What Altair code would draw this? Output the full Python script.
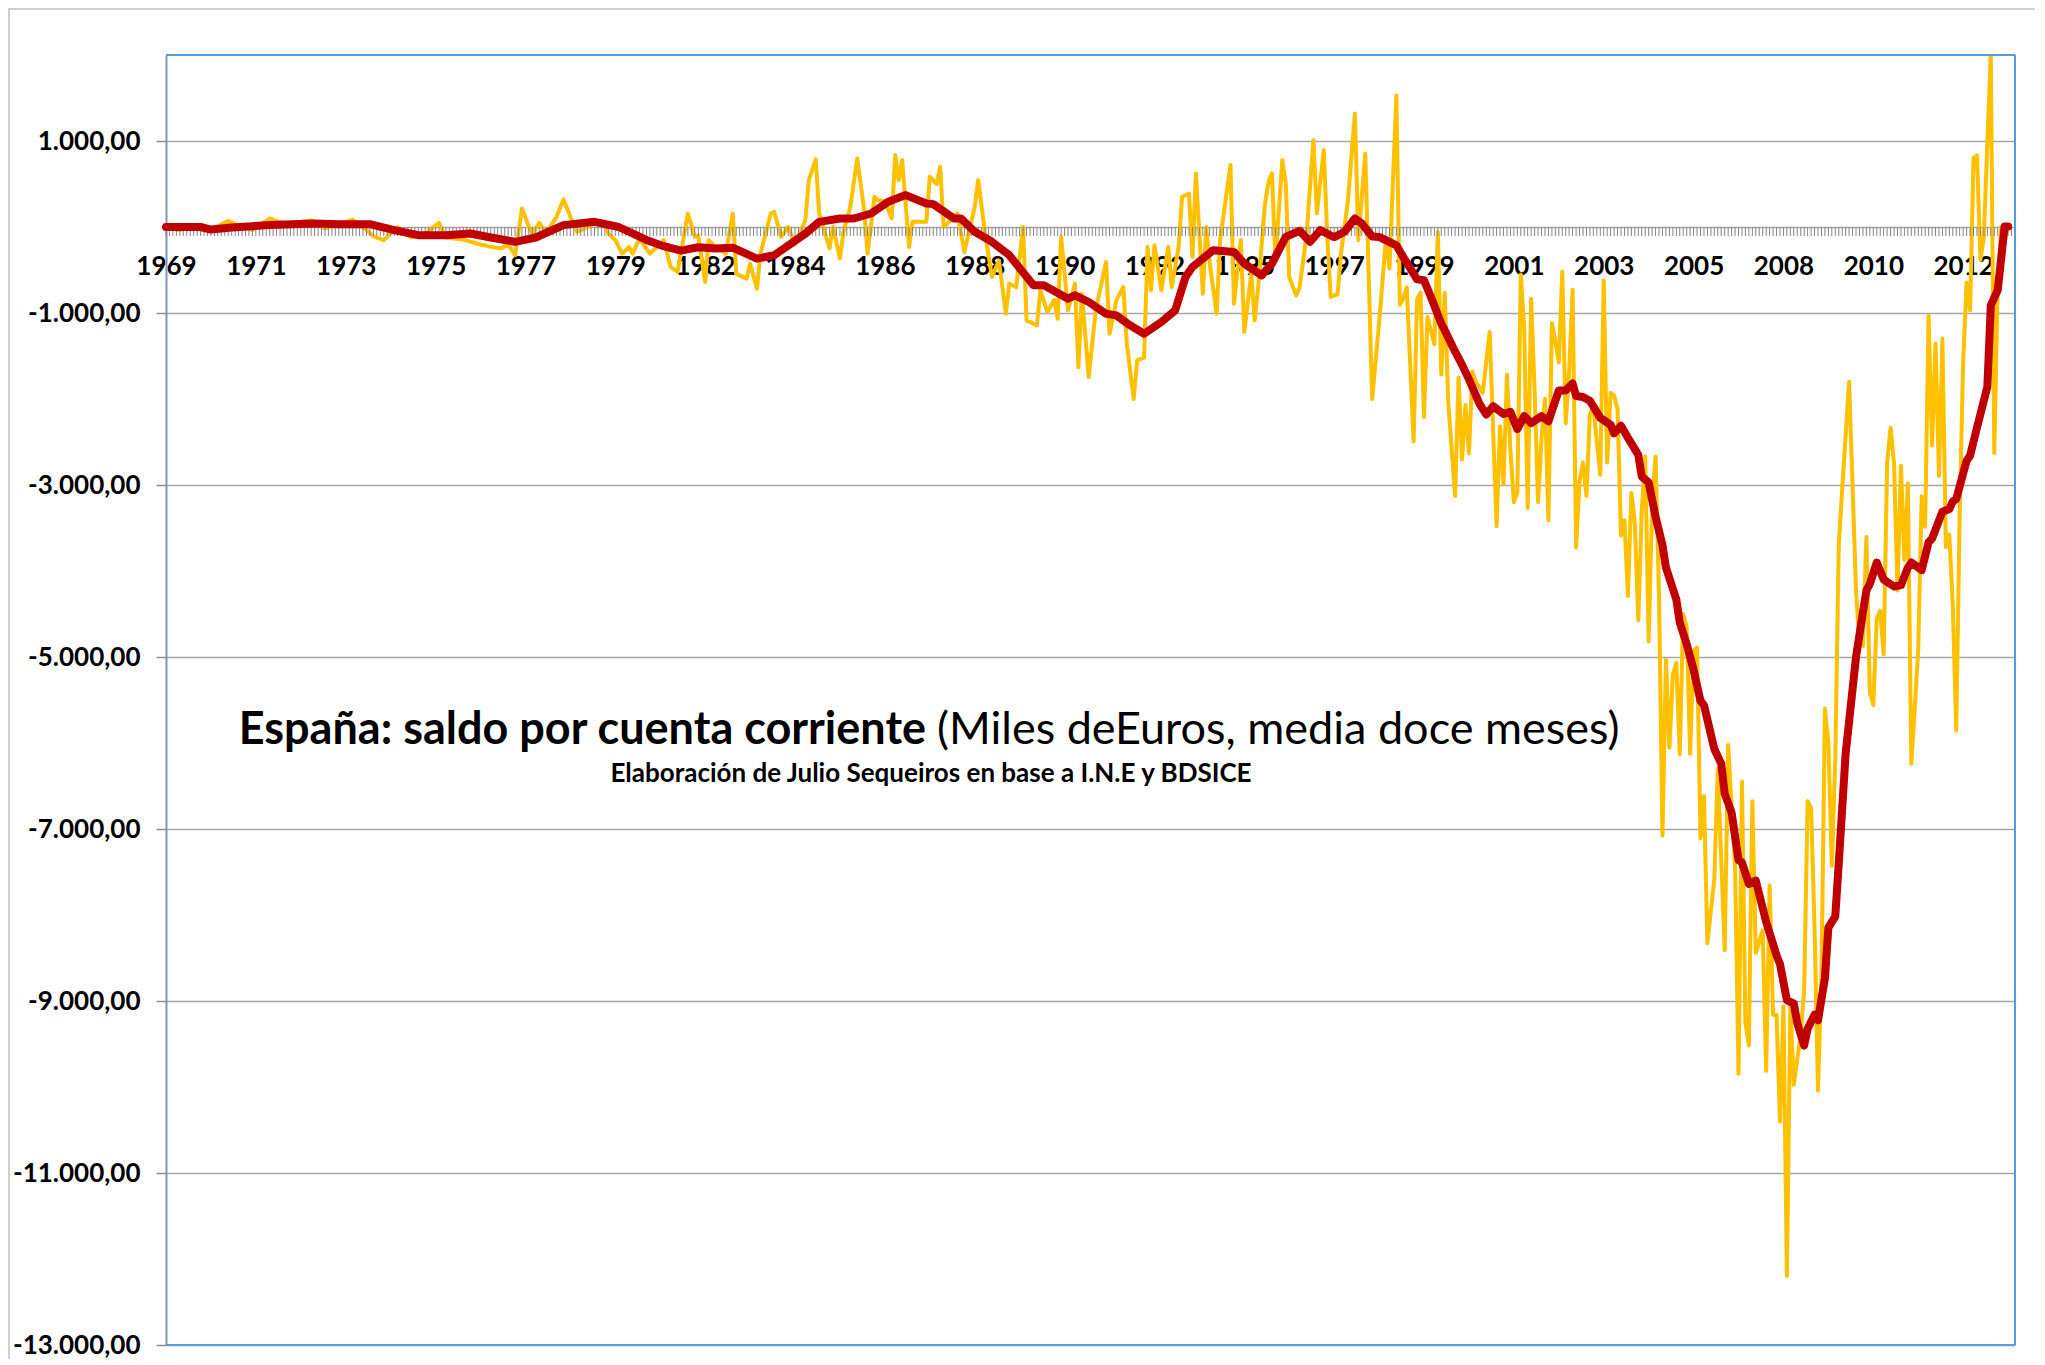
import altair as alt
import pandas as pd

# ---- data (month index: 0 = Jan 1969) ----
red_month = [0, 10, 13, 19, 30, 43, 50, 59, 66, 73, 81, 88, 94, 101, 107, 115, 124, 131, 139, 144,
             149, 154, 159, 164, 171, 176, 185, 189, 195, 199, 204, 209, 214, 220, 222, 228, 230, 234,
             239, 244, 251, 254, 261, 263, 267, 272, 275, 279, 283, 288, 292, 295, 297, 303, 309, 312,
             317, 320, 324, 328, 331, 334, 338, 341, 344, 346, 349, 351, 356, 358, 362, 364, 366, 369,
             370, 373, 375, 377, 380, 382, 384, 387, 389, 391, 393, 395, 398, 400, 403, 405, 407, 408,
             410, 412, 415, 418, 419, 421, 423, 426, 427, 429, 431, 433, 434, 437, 438, 440, 442, 444,
             445, 448, 450, 451, 453, 455, 456, 458, 460, 463, 466, 467, 469, 471, 472, 474, 475, 477,
             478, 480, 481, 483, 484, 486, 489, 491, 492, 493, 495, 497, 500, 502, 504, 505, 508, 510,
             511, 514, 516, 517, 518, 521, 522, 524, 527, 528, 530, 532, 533]
red_value = [0, 0, -30, -6, 22, 40, 33, 33, -37, -95, -95, -75, -122, -172, -122, 22, 60, 0, -150, -223,
             -275, -235, -250, -240, -367, -328, -77, 60, 99, 99, 157, 293, 371, 273, 266, 99, 99, -56,
             -172, -328, -677, -677, -833, -794, -872, -1008, -1028, -1144, -1241, -1105, -969, -581, -465, -270, -290, -426,
             -562, -426, -115, -45, -172, -37, -120, -56, 99, 41, -110, -115, -213, -350, -609, -620, -814, -1124,
             -1200, -1450, -1600, -1770, -2050, -2180, -2085, -2175, -2150, -2350, -2200, -2280, -2200, -2260, -1900, -1900, -1820, -1965,
             -1977, -2020, -2220, -2300, -2400, -2310, -2450, -2650, -2900, -2970, -3370, -3700, -3960, -4330, -4600, -4850, -5150, -5510,
             -5560, -6070, -6240, -6590, -6810, -7360, -7390, -7640, -7600, -8080, -8470, -8570, -8990, -9030, -9257, -9518, -9322, -9159,
             -9224, -8734, -8146, -8016, -7400, -6122, -5000, -4480, -4227, -4150, -3902, -4100, -4180, -4165, -3961, -3902, -3990, -3665,
             -3624, -3310, -3280, -3191, -3162, -2718, -2659, -2333, -1859, -912, -735, 5, 5]

yellow_month = [0, 4, 8, 13, 18, 20, 25, 30, 34, 38, 42, 46, 50, 54, 58, 60, 63, 67, 71, 75, 79, 81, 86, 90,
                94, 97, 99, 101, 103, 105, 106, 108, 110, 113, 115, 117, 119, 122, 125, 127, 128, 130, 132,
                134, 135, 137, 140, 144, 146, 148, 151, 153, 154, 156, 157, 159, 162, 164, 165, 168, 169,
                171, 172, 175, 176, 178, 180, 182, 185, 186, 188, 189, 192, 193, 195, 196, 198, 200, 202,
                203, 205, 206, 208, 210, 211, 212, 213, 215, 216, 220, 221, 223, 224, 225, 227, 229, 231,
                234, 235, 237, 239, 241, 243, 244, 246, 248, 249, 252, 253, 255, 257, 258, 259, 261, 263,
                264, 265, 267, 269, 272, 273, 275, 277, 278, 280, 281, 283, 284, 285, 286, 288, 290, 291,
                293, 294, 296, 297, 298, 300, 301, 302, 304, 305, 308, 309, 311, 312, 314, 315, 316, 318,
                319, 320, 321, 323, 324, 325, 327, 328, 330, 332, 333, 335, 336, 337, 339, 340, 342, 344,
                345, 347, 349, 351, 353, 354, 356, 357, 358, 359, 361, 362, 363, 364, 365, 367, 368, 369,
                370, 371, 373, 374, 375, 376, 377, 378, 379, 381, 383, 385, 386, 387, 388, 389, 390, 391,
                392, 393, 394, 395, 396, 397, 398, 399, 400, 401, 402, 403, 404, 405, 406, 407, 408, 409,
                410, 411, 412, 413, 415, 416, 417, 418, 419, 420, 421, 422, 423, 424, 425, 426, 427, 428,
                429, 430, 431, 432, 433, 434, 435, 436, 437, 438, 439, 440, 441, 442, 443, 444, 445, 446,
                448, 449, 451, 452, 454, 455, 456, 457, 458, 459, 460, 462, 463, 464, 465, 466, 467, 468,
                469, 470, 471, 473, 474, 475, 476, 477, 478, 479, 480, 481, 482, 483, 484, 485, 487, 489,
                490, 491, 492, 493, 494, 495, 496, 497, 498, 499, 500, 501, 502, 503, 504, 505, 506, 507,
                508, 509, 510, 511, 512, 513, 514, 515, 516, 517, 518, 519, 520, 521, 522, 523, 524, 525,
                526, 527, 528, 529, 530, 531]
yellow_value = [0, -37, 10, -30, 70, 33, -37, 99, 40, 50, 79, -18, 30, 87, -37, -107, -153, 0, -122, -80, 48, -122, -146, -192,
                -231, -250, -200, -328, 216, 0, -77, 48, -68, 118, 320, 118, -56, 0, 60, 60, -77, -153, -309,
                -231, -309, -134, -309, -153, -464, -522, 157, -115, -100, -639, -153, -231, -309, 157, -542, -600, -426,
                -717, -309, 157, 177, -115, 0, -200, 79, 545, 786, 157, -250, 0, -367, -60, 234, 797, 200,
                -309, 351, 312, 300, 99, 836, 545, 778, -231, 60, 60, 584, 500, 700, 0, 79, 157, -290,
                234, 545, -77, -581, -390, -1008, -658, -700, 0, -1086, -1144, -736, -988, -850, -1066, -115, -969, -658,
                -1630, -775, -1746, -969, -406, -1241, -850, -698, -1357, -1999, -1552, -1520, -231, -736, -212, -736, -231, -700,
                -231, 351, 389, -348, 623, -775, 0, -426, -1008, -150, 720, -891, -150, -1221, -542, -1086, -700, 273,
                525, 623, -387, 778, 506, -581, -795, -700, -100, 1011, 157, 895, -100, -814, -780, -300, 312, 1321,
                -153, 855, -2000, -1117, -129, -482, 1529, -905, -834, -700, -2492, -834, -764, -2210, -1046, -1363, -58, -1716,
                -764, -2034, -3127, -1751, -2704, -2069, -2633, -1681, -1800, -1928, -1222, -3480, -2316, -2986, -1716, -2598, -3198, -3092,
                -552, -1187, -3268, -834, -1893, -3198, -2457, -1998, -3409, -1117, -1328, -1575, -517, -2281, -1681, -729, -3727, -2951,
                -2739, -3127, -2175, -2104, -2880, -623, -2739, -1928, -1963, -2118, -3586, -3409, -4291, -3092, -3445, -4573, -3304, -2669,
                -4820, -3233, -2669, -4291, -7078, -5032, -6055, -5208, -5067, -6130, -4500, -4650, -6126, -4930, -4890, -7110, -6615, -8330,
                -7580, -6300, -8408, -6024, -7428, -9845, -6448, -9257, -9518, -6677, -8440, -8179, -9812, -7657, -9159, -9159, -10400, -9061,
                -12196, -9061, -9975, -9387, -8865, -6677, -6760, -8146, -10040, -8701, -5600, -6000, -7428, -6187, -3705, -3050, -1800, -4227,
                -4848, -4870, -3606, -5411, -5559, -4553, -4464, -4967, -2747, -2333, -2747, -4227, -2777, -3872, -2984, -6240, -5589, -4908,
                -3132, -3487, -1031, -2540, -1356, -2896, -1297, -3724, -3576, -4405, -5855, -3339, -1563, -646, -971, 805, 834, -379,
                -113, 982, 2000, -2629, -675, 0]

tick_step = 26
tick_labels = ["1969", "1971", "1973", "1975", "1977", "1979", "1982", "1984", "1986", "1988", "1990",
               "1992", "1995", "1997", "1999", "2001", "2003", "2005", "2008", "2010", "2012"]
y_ticks = [1000, -1000, -3000, -5000, -7000, -9000, -11000, -13000]
n_months = 535

title_bold = "España: saldo por cuenta corriente"
title_rest = "(Miles deEuros, media doce meses)"
subtitle = "Elaboración de Julio Sequeiros en base a I.N.E y BDSICE"

W, H = 1849, 1290
Y_MIN, Y_MAX = -13000, 2000
zero_px = H * Y_MAX / (Y_MAX - Y_MIN)          # pixel row of the value 0
zero_from_bottom = H - zero_px

red_df = pd.DataFrame({"m": red_month, "v": red_value})
yel_df = pd.DataFrame({"m": yellow_month, "v": yellow_value})
month_ticks_df = pd.DataFrame({"m": list(range(n_months))})
one = pd.DataFrame({"a": [0]})

FONT = "Lato"

label_pos = [i * tick_step for i in range(len(tick_labels))]
label_map = "{" + ",".join(f"'{p}':'{t}'" for p, t in zip(label_pos, tick_labels)) + "}"
x_label_expr = f"{label_map}[datum.value + ''] || ''"
y_label_expr = ("(datum.value < 0 ? '-' : '') + replace(replace(replace(format(abs(datum.value), ',.2f'),"
                " ',', '#'), '.', ','), '#', '.')")

x_enc = alt.X("m:Q", scale=alt.Scale(domain=[0, n_months], nice=False, zero=False),
              axis=alt.Axis(values=label_pos, offset=-zero_from_bottom, ticks=False,
                            domainColor="#A6A6A6", domainWidth=1.5,
                            labelExpr=x_label_expr, labelFont=FONT, labelFontWeight="bold",
                            labelFontSize=26, labelColor="black", labelPadding=26, labelOverlap=False,
                            labelFlush=False, labelBaseline="top", grid=False, title=None))
y_enc = alt.Y("v:Q", scale=alt.Scale(domain=[Y_MIN, Y_MAX], nice=False, zero=False),
              axis=alt.Axis(values=y_ticks, grid=True, gridColor="#A6A6A6", gridWidth=1.5,
                            tickSize=10, tickColor="#8C8C8C", tickWidth=1.5, domainColor="#8497B0",
                            domainWidth=2, labelExpr=y_label_expr, labelFont=FONT,
                            labelFontWeight="bold", labelFontSize=26, labelColor="black",
                            labelPadding=16, title=None))

yellow = alt.Chart(yel_df).mark_line(color="#FFC000", strokeWidth=4, strokeJoin="round",
                                     strokeCap="round", clip=True).encode(x=x_enc, y=y_enc)
red = alt.Chart(red_df).mark_line(color="#C00000", strokeWidth=8, strokeJoin="round",
                                  strokeCap="round").encode(x="m:Q", y="v:Q")

month_ticks = alt.Chart(month_ticks_df).mark_rule(color="#858585", strokeWidth=1).encode(
    x="m:Q", y=alt.value(zero_px), y2=alt.value(zero_px + 9))

frame_color = "#5B9BD5"
frame_top = alt.Chart(one).mark_rule(color=frame_color, strokeWidth=2).encode(
    x=alt.value(0), x2=alt.value(W), y=alt.value(0))
frame_right = alt.Chart(one).mark_rule(color=frame_color, strokeWidth=2).encode(
    x=alt.value(W), y=alt.value(0), y2=alt.value(H))
frame_bottom = alt.Chart(one).mark_rule(color=frame_color, strokeWidth=2).encode(
    x=alt.value(0), x2=alt.value(W), y=alt.value(H))
outer_top = alt.Chart(one).mark_rule(color="#BFBFBF", strokeWidth=1.5).encode(
    x=alt.value(-158), x2=alt.value(W + 40), y=alt.value(-46))
outer_left = alt.Chart(one).mark_rule(color="#BFBFBF", strokeWidth=1.5).encode(
    x=alt.value(-157), y=alt.value(-46), y2=alt.value(H + 30))

t1 = alt.Chart(one).mark_text(text=title_bold, font=FONT, fontWeight="bold", fontSize=45,
                              align="right", baseline="middle", color="black").encode(
    x=alt.value(760), y=alt.value(675))
t2 = alt.Chart(one).mark_text(text=title_rest, font=FONT, fontWeight="normal", fontSize=45,
                              align="left", baseline="middle", color="black").encode(
    x=alt.value(771), y=alt.value(675))
t3 = alt.Chart(one).mark_text(text=subtitle, font=FONT, fontWeight="bold", fontSize=26,
                              align="center", baseline="middle", color="black").encode(
    x=alt.value(765), y=alt.value(719))

chart = alt.layer(yellow, month_ticks, red, frame_top, frame_right, frame_bottom, outer_top,
                  outer_left, t1, t2, t3).properties(
    width=W, height=H,
    padding={"left": 158, "top": 47, "right": 20, "bottom": 14},
    autosize=alt.AutoSizeParams(type="none"),
).configure_view(stroke=None).configure(background="white")

chart.save("out.html", embed_options={"renderer": "svg", "actions": False})
